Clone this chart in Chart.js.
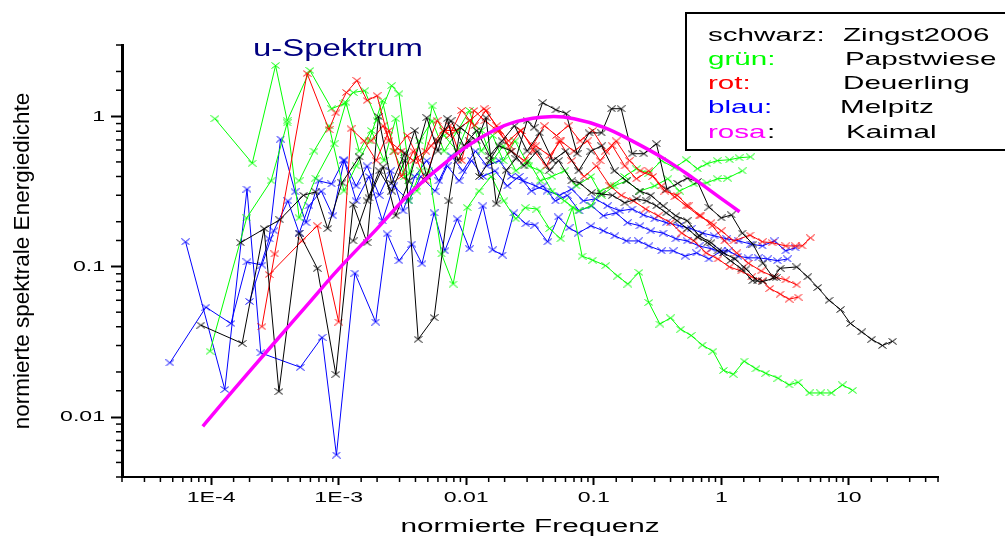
<!DOCTYPE html>
<html><head><meta charset="utf-8">
<script src="https://cdn.jsdelivr.net/npm/chart.js@4.4.1/dist/chart.umd.min.js"></script>
<style>
html,body{margin:0;padding:0;background:#fff;}
#wrap{position:relative;width:1005px;height:536px;overflow:hidden;background:#fff;}
#c{position:absolute;left:0;top:0;}
.t{position:absolute;white-space:nowrap;font-family:'Liberation Sans',Arial,sans-serif;transform-origin:0 0;line-height:1;}
#legendBox{position:absolute;left:685px;top:12px;width:340px;height:139px;border:2px solid #000;box-sizing:border-box;}
</style></head>
<body><div id="wrap"><canvas id="c" width="1005" height="536"></canvas></div>
<script>
// ---------- data ----------
const chartTitle = 'u-Spektrum';
const xAxisTitle = 'normierte Frequenz';
const yAxisTitle = 'normierte spektrale Energiedichte';
const xTickValues = [1e-4, 1e-3, 0.01, 0.1, 1, 10];
const xTickLabels = ['1E-4', '1E-3', '0.01', '0.1', '1', '10'];
const yTickValues = [0.01, 0.1, 1];
const yTickLabels = ['0.01', '0.1', '1'];

const legendKeys = ['schwarz:', 'grün:', 'rot:', 'blau:', 'rosa'];
const legendNames = ['Zingst2006', 'Papstwiese', 'Deuerling', 'Melpitz', 'Kaimal'];

// Kaimal reference curve
const kaimalFreq = [8.6e-5, 1.5e-4, 3e-4, 6e-4, 1e-3, 2e-3, 3.5e-3, 6e-3, 0.01, 0.016, 0.025, 0.045, 0.07, 0.12, 0.2, 0.35, 0.6, 1.0, 1.39];
const kaimalVal = [0.0087, 0.0152, 0.030, 0.059, 0.097, 0.18, 0.30, 0.45, 0.63, 0.80, 0.93, 1.0, 0.97, 0.85, 0.69, 0.53, 0.39, 0.285, 0.233];

// Zingst2006 (black)
const zingstAFreq = [8.3e-5, 1.75e-4, 2.6e-4, 3.4e-4, 4.9e-4, 6.8e-4, 9.5e-4, 1.3e-3, 1.67e-3, 2.05e-3, 2.6e-3, 3.3e-3, 4.2e-3, 5.6e-3, 7.3e-3, 9.0e-3, 0.0121, 0.0143, 0.0172, 0.0206, 0.0245, 0.030, 0.034, 0.0397, 0.0505, 0.0607, 0.074, 0.092, 0.115, 0.138, 0.164, 0.20, 0.247, 0.31, 0.375, 0.455, 0.54, 0.65, 0.80, 1.0, 1.2, 1.46, 1.77, 2.12, 2.55, 2.9, 3.9, 4.75, 5.7, 7.0, 8.6, 10.3, 12.6, 15.1, 18.3, 22];
const zingstAVal = [0.041, 0.031, 0.18, 0.0148, 0.168, 0.098, 0.0193, 0.26, 0.145, 1.0, 0.36, 0.575, 0.033, 0.046, 0.275, 0.845, 0.69, 0.985, 0.263, 0.44, 0.525, 0.94, 0.845, 1.24, 1.11, 1.05, 0.567, 0.78, 0.78, 1.13, 1.13, 0.567, 0.567, 0.66, 0.33, 0.36, 0.39, 0.37, 0.25, 0.212, 0.222, 0.168, 0.142, 0.106, 0.085, 0.098, 0.10, 0.086, 0.073, 0.06, 0.052, 0.042, 0.037, 0.033, 0.03, 0.032];
const zingstBFreq = [1.7e-4, 3.45e-4, 5.3e-4, 6.6e-4, 8.2e-4, 1.06e-3, 1.45e-3, 1.73e-3, 2.23e-3, 2.8e-3, 3.55e-3, 4.9e-3, 6.0e-3, 7.1e-3, 8.6e-3, 0.0106, 0.0127, 0.0152, 0.0181, 0.0225, 0.0284, 0.036, 0.045, 0.053, 0.067, 0.077, 0.096, 0.115, 0.14, 0.175, 0.217, 0.26, 0.31, 0.37, 0.45, 0.54, 0.65, 0.78, 0.94, 1.18, 1.44, 1.76, 2.12, 2.7];
const zingstBVal = [0.145, 0.206, 0.30, 0.316, 0.18, 0.363, 0.54, 0.288, 0.465, 0.219, 0.374, 0.985, 0.59, 0.97, 0.51, 0.69, 0.40, 0.51, 0.64, 0.59, 0.47, 0.59, 0.44, 0.51, 0.374, 0.363, 0.312, 0.306, 0.30, 0.267, 0.284, 0.275, 0.255, 0.229, 0.203, 0.18, 0.158, 0.145, 0.128, 0.11, 0.097, 0.081, 0.08, 0.085];
const zingstCFreq = [1.3e-3, 1.67e-3, 2.08e-3, 2.6e-3, 3.3e-3, 3.95e-3, 4.9e-3, 6.0e-3, 7.6e-3, 9.6e-3, 0.0121, 0.0152, 0.0191, 0.0239, 0.030, 0.0376, 0.0476, 0.060, 0.076, 0.095, 0.115, 0.145, 0.18, 0.23, 0.28, 0.35, 0.44, 0.54, 0.67, 0.83, 1.04, 1.28, 1.56, 1.92];
const zingstCVal = [0.149, 0.275, 0.436, 0.32, 0.51, 0.81, 0.40, 0.69, 0.94, 0.64, 0.81, 0.55, 0.69, 0.87, 0.59, 0.78, 0.51, 0.59, 0.436, 0.59, 0.64, 0.436, 0.374, 0.32, 0.30, 0.255, 0.219, 0.203, 0.161, 0.145, 0.124, 0.113, 0.097, 0.081];

// Papstwiese (green)
const papstAFreq = [1.07e-4, 2.1e-4, 3.2e-4, 3.95e-4, 5.95e-4, 8.8e-4, 1.1e-3, 1.3e-3, 1.6e-3, 2.0e-3, 2.6e-3, 2.97e-3, 3.6e-3, 4.3e-3, 5.4e-3, 6.7e-3, 8.6e-3, 0.0106, 0.0131, 0.0161, 0.0195, 0.0241, 0.031, 0.038, 0.047, 0.059, 0.0755, 0.095, 0.113, 0.137, 0.174, 0.216, 0.27, 0.34, 0.43, 0.53, 0.65, 0.77, 0.93, 1.16, 1.38, 1.69];
const papstAVal = [0.97, 0.49, 2.19, 0.94, 2.03, 1.13, 1.22, 1.45, 1.49, 0.94, 1.61, 1.42, 0.417, 0.69, 0.94, 0.59, 0.81, 1.10, 0.59, 0.75, 0.51, 0.69, 0.47, 0.436, 0.32, 0.275, 0.236, 0.255, 0.32, 0.346, 0.40, 0.45, 0.42, 0.51, 0.457, 0.517, 0.45, 0.486, 0.51, 0.517, 0.533, 0.54];
const papstBFreq = [9.8e-5, 1.9e-4, 2.95e-4, 3.95e-4, 4.9e-4, 6.6e-4, 9.2e-4, 1.14e-3, 1.45e-3, 1.8e-3, 2.27e-3, 2.8e-3, 3.55e-3, 4.4e-3, 5.4e-3, 6.7e-3, 8.5e-3, 0.0106, 0.0131, 0.0161, 0.0195, 0.0245, 0.0305, 0.038, 0.047, 0.059, 0.073, 0.095, 0.115, 0.145, 0.18, 0.23, 0.30, 0.38, 0.47, 0.61, 0.77, 0.93, 1.12, 1.46];
const papstBVal = [0.0275, 0.212, 0.374, 0.91, 0.212, 0.39, 0.66, 1.24, 0.59, 0.81, 0.51, 0.97, 0.275, 0.436, 1.18, 0.75, 0.59, 0.94, 0.81, 0.51, 0.64, 0.436, 0.51, 0.374, 0.40, 0.436, 0.346, 0.40, 0.30, 0.346, 0.374, 0.32, 0.346, 0.386, 0.32, 0.357, 0.363, 0.386, 0.39, 0.436];
const papstCFreq = [4.9e-4, 6.4e-4, 8.4e-4, 1.1e-3, 1.37e-3, 1.73e-3, 2.2e-3, 2.7e-3, 3.3e-3, 4.1e-3, 5.1e-3, 6.4e-3, 7.9e-3, 0.0102, 0.0126, 0.0157, 0.0197, 0.0245, 0.029, 0.0358, 0.045, 0.055, 0.068, 0.081, 0.098, 0.124, 0.154, 0.185, 0.226, 0.27, 0.33, 0.40, 0.48, 0.58, 0.71, 0.86, 1.04, 1.24, 1.51, 1.87, 2.23, 2.78, 3.4, 4.0, 4.9, 6.0, 7.3, 8.9, 10.7];
const papstCVal = [0.374, 0.59, 0.87, 0.32, 0.47, 0.69, 1.28, 0.59, 0.40, 0.32, 0.436, 0.122, 0.077, 0.248, 0.32, 0.40, 0.275, 0.209, 0.248, 0.243, 0.18, 0.154, 0.248, 0.118, 0.111, 0.102, 0.087, 0.077, 0.092, 0.058, 0.0417, 0.0458, 0.0385, 0.035, 0.0302, 0.0275, 0.0205, 0.0193, 0.0236, 0.021, 0.0196, 0.0182, 0.0164, 0.0171, 0.0145, 0.0145, 0.0145, 0.0164, 0.0151];

// Deuerling (red)
const deuerAFreq = [2.5e-4, 3.15e-4, 5.65e-4, 8.4e-4, 9.5e-4, 1.15e-3, 1.39e-3, 1.67e-3, 2.0e-3, 2.48e-3, 3.1e-3, 3.85e-3, 4.8e-3, 5.9e-3, 7.4e-3, 9.2e-3, 0.0116, 0.0143, 0.0181, 0.0225, 0.0284, 0.035, 0.045, 0.055, 0.07, 0.089, 0.112, 0.14, 0.175, 0.216, 0.27, 0.34, 0.43, 0.53, 0.67, 0.83, 1.0, 1.25, 1.68, 2.1, 2.5, 3.2, 3.8, 4.3, 5.0];
const deuerAVal = [0.04, 0.122, 1.94, 0.82, 1.06, 1.45, 1.74, 1.28, 1.38, 0.69, 0.59, 0.51, 0.59, 0.94, 0.75, 1.10, 0.87, 1.10, 0.81, 0.59, 0.51, 0.64, 0.55, 0.69, 0.59, 0.69, 0.51, 0.64, 0.47, 0.386, 0.436, 0.346, 0.293, 0.255, 0.219, 0.197, 0.174, 0.149, 0.163, 0.147, 0.145, 0.138, 0.138, 0.138, 0.156];
const deuerBFreq = [2.85e-4, 5.15e-4, 6.8e-4, 1.0e-3, 1.25e-3, 1.58e-3, 1.97e-3, 2.48e-3, 3.1e-3, 3.85e-3, 4.8e-3, 5.9e-3, 7.4e-3, 9.2e-3, 0.0115, 0.014, 0.0175, 0.0218, 0.0269, 0.034, 0.0425, 0.0535, 0.067, 0.084, 0.105, 0.134, 0.164, 0.205, 0.255, 0.32, 0.40, 0.49, 0.61, 0.76, 0.94, 1.16, 1.43, 1.73, 2.1, 2.4, 2.9, 3.4, 4.0];
const deuerBVal = [0.089, 0.149, 0.188, 0.043, 0.83, 0.69, 0.51, 0.81, 0.40, 0.59, 0.374, 0.69, 0.87, 0.51, 1.10, 0.94, 0.81, 0.64, 0.81, 0.59, 0.47, 0.69, 0.51, 0.40, 0.47, 0.346, 0.30, 0.275, 0.243, 0.219, 0.197, 0.168, 0.149, 0.124, 0.113, 0.10, 0.094, 0.086, 0.081, 0.072, 0.066, 0.061, 0.063];
const deuerCFreq = [1.8e-3, 2.23e-3, 2.75e-3, 3.45e-3, 4.3e-3, 5.3e-3, 6.6e-3, 8.3e-3, 0.0106, 0.0138, 0.0173, 0.0214, 0.0265, 0.033, 0.041, 0.051, 0.063, 0.078, 0.098, 0.124, 0.15, 0.19, 0.23, 0.29, 0.36, 0.45, 0.55, 0.69, 0.85, 1.06, 1.32, 1.63, 2.05, 2.6, 3.2, 3.9];
const deuerCVal = [0.69, 0.87, 0.59, 0.75, 0.51, 0.64, 0.81, 0.81, 0.94, 1.13, 0.87, 0.69, 0.81, 0.64, 0.87, 0.75, 0.87, 0.69, 0.81, 0.59, 0.69, 0.51, 0.436, 0.40, 0.32, 0.30, 0.255, 0.219, 0.188, 0.149, 0.124, 0.106, 0.094, 0.086, 0.082, 0.076];

// Melpitz (blue)
const melpAFreq = [4.75e-5, 9.1e-5, 1.43e-4, 1.91e-4, 2.5e-4, 3.1e-4, 4.0e-4, 4.9e-4, 5.85e-4, 7.3e-4, 9.0e-4, 1.1e-3, 1.37e-3, 1.67e-3, 2.08e-3, 2.55e-3, 3.2e-3, 3.95e-3, 4.9e-3, 6.1e-3, 7.6e-3, 9.4e-3, 0.0118, 0.0145, 0.0181, 0.0225, 0.028, 0.035, 0.043, 0.054, 0.067, 0.083, 0.103, 0.128, 0.16, 0.20, 0.245, 0.30, 0.37, 0.47, 0.58, 0.71, 0.88, 1.1, 1.37, 1.7, 2.1, 2.6, 3.2, 3.8];
const melpAVal = [0.023, 0.054, 0.042, 0.108, 0.103, 0.174, 0.275, 0.168, 0.255, 0.32, 0.219, 0.51, 0.346, 0.47, 0.30, 0.436, 0.236, 0.40, 0.51, 0.374, 0.55, 0.436, 0.59, 0.47, 0.51, 0.40, 0.374, 0.346, 0.32, 0.30, 0.33, 0.275, 0.284, 0.255, 0.236, 0.243, 0.222, 0.209, 0.197, 0.188, 0.18, 0.168, 0.161, 0.154, 0.149, 0.142, 0.138, 0.149, 0.128, 0.134];
const melpBFreq = [6.3e-5, 1.28e-4, 1.91e-4, 2.45e-4, 5.0e-4, 7.4e-4, 9.6e-4, 1.34e-3, 1.95e-3, 2.4e-3, 2.97e-3, 3.75e-3, 4.5e-3, 5.6e-3, 6.8e-3, 8.5e-3, 0.0106, 0.0135, 0.0161, 0.0192, 0.0236, 0.0293, 0.0345, 0.0435, 0.0527, 0.064, 0.0755, 0.095, 0.119, 0.146, 0.18, 0.224, 0.27, 0.34, 0.42, 0.52, 0.64, 0.80, 1.0, 1.14, 1.35, 1.62, 1.95, 2.3, 2.75, 3.3];
const melpBVal = [0.147, 0.0153, 0.33, 0.0268, 0.0215, 0.034, 0.0056, 0.091, 0.043, 0.166, 0.11, 0.142, 0.105, 0.229, 0.128, 0.209, 0.132, 0.255, 0.13, 0.12, 0.229, 0.194, 0.19, 0.147, 0.215, 0.182, 0.168, 0.188, 0.174, 0.161, 0.149, 0.149, 0.138, 0.128, 0.128, 0.118, 0.124, 0.113, 0.128, 0.128, 0.118, 0.115, 0.115, 0.113, 0.11, 0.113];
const melpCFreq = [2.0e-4, 2.85e-4, 3.5e-4, 4.55e-4, 5.55e-4, 7.0e-4, 8.8e-4, 1.1e-3, 1.37e-3, 1.73e-3, 2.2e-3, 2.7e-3, 3.55e-3, 4.4e-3, 5.7e-3, 7.1e-3, 8.8e-3, 0.011, 0.0135, 0.0168, 0.021, 0.026, 0.0325, 0.040, 0.050, 0.062, 0.077, 0.096, 0.119, 0.149, 0.184, 0.23, 0.28, 0.35, 0.44, 0.54, 0.67, 0.84, 1.04];
const melpCVal = [0.059, 0.154, 0.71, 0.316, 0.197, 0.374, 0.357, 0.517, 0.275, 0.40, 0.203, 0.346, 0.275, 0.40, 0.32, 0.47, 0.374, 0.51, 0.40, 0.436, 0.346, 0.40, 0.32, 0.346, 0.275, 0.30, 0.236, 0.255, 0.219, 0.229, 0.197, 0.188, 0.174, 0.168, 0.154, 0.149, 0.138, 0.132, 0.124];

// ---------- styling ----------
const COLORS = {black:'#000000', green:'#00ff00', red:'#ff0000', blue:'#0000ff', pink:'#ff00ff'};
const legendKeyColors = [COLORS.black, COLORS.green, COLORS.red, COLORS.blue, COLORS.pink];
const TEXT_STRETCH = 1.65;

function pts(f, v) { return f.map((x, i) => ({x: x, y: v[i]})); }
function xMarker(color) {
  const c = document.createElement('canvas'); c.width = 9; c.height = 7;
  const g = c.getContext('2d'); g.strokeStyle = color; g.lineWidth = 1;
  g.beginPath(); g.moveTo(0.5, 0.5); g.lineTo(8.5, 6.5); g.moveTo(8.5, 0.5); g.lineTo(0.5, 6.5); g.stroke();
  return c;
}
const markers = {};
Object.keys(COLORS).forEach(k => markers[k] = xMarker(COLORS[k]));
function series(label, f, v, colorKey) {
  return {label: label, data: pts(f, v), borderColor: COLORS[colorKey], backgroundColor: COLORS[colorKey],
    borderWidth: 1, pointStyle: markers[colorKey], pointRadius: 3, tension: 0, fill: false};
}
function isMajor(v) { if (!v) return false; const e = Math.log10(v); return Math.abs(e - Math.round(e)) < 1e-6; }
function labelFor(v, vals, labs) {
  const i = vals.findIndex(t => Math.abs(Math.log10(t) - Math.log10(v)) < 1e-6);
  return i >= 0 ? labs[i] : '';
}

const datasets = [
  {label: 'Kaimal', data: pts(kaimalFreq, kaimalVal), borderColor: COLORS.pink, borderWidth: 3.5, pointRadius: 0, tension: 0.4, fill: false},
  series('Zingst2006 a', zingstAFreq, zingstAVal, 'black'),
  series('Zingst2006 b', zingstBFreq, zingstBVal, 'black'),
  series('Zingst2006 c', zingstCFreq, zingstCVal, 'black'),
  series('Deuerling a', deuerAFreq, deuerAVal, 'red'),
  series('Deuerling b', deuerBFreq, deuerBVal, 'red'),
  series('Deuerling c', deuerCFreq, deuerCVal, 'red'),
  series('Papstwiese a', papstAFreq, papstAVal, 'green'),
  series('Papstwiese b', papstBFreq, papstBVal, 'green'),
  series('Papstwiese c', papstCFreq, papstCVal, 'green'),
  series('Melpitz a', melpAFreq, melpAVal, 'blue'),
  series('Melpitz b', melpBFreq, melpBVal, 'blue'),
  series('Melpitz c', melpCFreq, melpCVal, 'blue')
];

// texts drawn after the datasets (tick labels, x title) are stretched horizontally like the original
const stretchPlugin = {
  id: 'stretchText',
  afterDatasetsDraw(chart) {
    const ctx = chart.ctx;
    if (ctx._origFillText) return;
    const orig = ctx.fillText;
    ctx._origFillText = orig;
    ctx.fillText = function (text, x, y, maxWidth) {
      this.save();
      this.translate(x, y);
      this.scale(TEXT_STRETCH, 1);
      if (maxWidth === undefined || maxWidth === null) orig.call(this, text, 0, 0);
      else orig.call(this, text, 0, 0, maxWidth / TEXT_STRETCH);
      this.restore();
    };
  },
  afterDraw(chart) {
    const ctx = chart.ctx;
    if (ctx._origFillText) { ctx.fillText = ctx._origFillText; delete ctx._origFillText; }
  }
};
const minorTicksPlugin = {
  id: 'minorTicks',
  afterDraw(chart) {
    const g = chart.ctx, xs = chart.scales.x, ys = chart.scales.y;
    g.save(); g.strokeStyle = '#000'; g.lineWidth = 1.5;
    ys.ticks.forEach(t => {
      if (isMajor(t.value)) return;
      const y = ys.getPixelForValue(t.value);
      g.beginPath(); g.moveTo(ys.right - 6, y); g.lineTo(ys.right, y); g.stroke();
    });
    xs.ticks.forEach(t => {
      if (isMajor(t.value)) return;
      const x = xs.getPixelForValue(t.value);
      g.beginPath(); g.moveTo(x, xs.top); g.lineTo(x, xs.top + 5); g.stroke();
    });
    g.restore();
  }
};

const tickFont = {family: "'Liberation Sans', Arial, sans-serif", size: 14};
new Chart(document.getElementById('c').getContext('2d'), {
  type: 'line',
  data: {datasets: datasets},
  options: {
    responsive: false, animation: false, devicePixelRatio: 1,
    layout: {padding: {left: 0, top: 45, right: 67, bottom: 0}},
    plugins: {legend: {display: false}, tooltip: {enabled: false}, title: {display: false}},
    scales: {
      x: {
        type: 'logarithmic', position: 'bottom', min: 2e-5, max: 50,
        afterFit: s => { s.height = 59; },
        border: {display: true, color: '#000', width: 2, z: 1},
        grid: {drawOnChartArea: false, drawTicks: true, tickLength: 8, tickWidth: 2, z: 1,
          tickColor: c => (c.tick && isMajor(c.tick.value)) ? '#000' : 'rgba(0,0,0,0)'},
        ticks: {autoSkip: false, maxRotation: 0, minRotation: 0, padding: 5, color: '#000', font: tickFont, z: 1,
          callback: v => labelFor(v, xTickValues, xTickLabels)},
        title: {display: true, text: xAxisTitle, color: '#000',
          font: {family: "'Liberation Sans', Arial, sans-serif", size: 18, lineHeight: 1}, padding: {top: 0, bottom: 0}}
      },
      y: {
        type: 'logarithmic', position: 'left', min: 0.004, max: 3,
        afterFit: s => { s.width = 122; },
        border: {display: true, color: '#000', width: 3},
        grid: {drawOnChartArea: false, drawTicks: true, tickLength: 11, tickWidth: 2,
          tickColor: c => (c.tick && isMajor(c.tick.value)) ? '#000' : 'rgba(0,0,0,0)'},
        ticks: {autoSkip: false, padding: 6, color: '#000', font: tickFont, z: 1,
          callback: v => labelFor(v, yTickValues, yTickLabels)},
        title: {display: true, text: yAxisTitle, color: '#000',
          font: {family: "'Liberation Sans', Arial, sans-serif", size: 22.5, lineHeight: 1}, padding: {top: 12, bottom: 0}}
      }
    }
  },
  plugins: [stretchPlugin, minorTicksPlugin]
});

// ---------- overlay texts: title and legend box ----------
const wrap = document.getElementById('wrap');
function addText(txt, left, baseline, size, color, sx) {
  const d = document.createElement('div');
  d.className = 't'; d.textContent = txt;
  d.style.left = left + 'px'; d.style.top = (baseline - 0.8465 * size) + 'px';
  d.style.fontSize = size + 'px'; d.style.color = color;
  d.style.transform = 'scaleX(' + sx + ')';
  wrap.appendChild(d);
  return d;
}
addText(chartTitle, 253, 56, 23, '#000080', 1.43);
const box = document.createElement('div'); box.id = 'legendBox'; wrap.appendChild(box);
const rowBase = [41.5, 65.7, 89.9, 114.1, 138.3];
const nameX = [843, 845, 843, 840, 846];
legendKeys.forEach((k, i) => {
  addText(k, 708, rowBase[i], 18.5, legendKeyColors[i], 1.6);
  addText(legendNames[i], nameX[i], rowBase[i], 18.5, '#000', 1.6);
});
addText(':', 767, rowBase[4], 18.5, '#000', 1.6);
</script></body></html>
